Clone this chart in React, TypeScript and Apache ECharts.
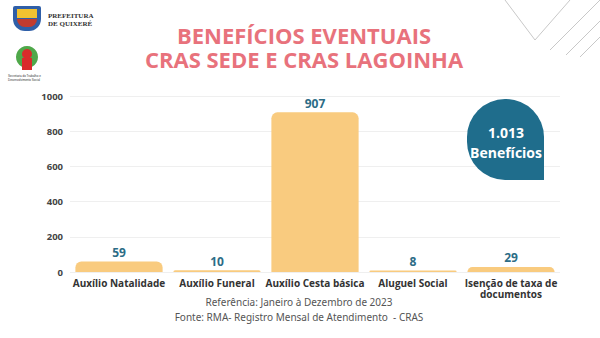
import React, { useEffect, useRef } from "react";
import * as echarts from "echarts";

const categories = [
  "Auxílio Natalidade",
  "Auxílio Funeral",
  "Auxílio Cesta básica",
  "Aluguel Social",
  "Isenção de taxa de\ndocumentos",
];
const values = [59, 10, 907, 8, 29];
const yTicks = { min: 0, max: 1000, interval: 200 };
const titleLines = ["BENEFÍCIOS EVENTUAIS", "CRAS SEDE E CRAS LAGOINHA"];
const badgeLines = ["1.013", "Benefícios"];
const footerLines = [
  "Referência: Janeiro à Dezembro de 2023",
  "Fonte: RMA- Registro Mensal de Atendimento  - CRAS",
];

export default function App() {
  const ref = useRef<HTMLDivElement>(null);
  useEffect(() => {
    if (!ref.current) return;
    const chart = echarts.init(ref.current, null, { renderer: "svg" });
    const diag: any[] = [];
    const diagLines = [
      [505, 0, 535, 40],
      [535, 40, 570, 0],
      [550, 50, 600, 0],
      [566, 55, 600, 21],
      [580, 57, 600, 37],
    ];
    diagLines.forEach(([x1, y1, x2, y2]) =>
      diag.push({
        type: "line",
        shape: { x1, y1, x2, y2 },
        style: { stroke: "#c8c8c8", lineWidth: 1 },
        silent: true,
      })
    );
    chart.setOption({
      animation: false,
      backgroundColor: "#ffffff",
      grid: { left: 70, right: 40, top: 96, bottom: 66, containLabel: false },
      xAxis: {
        type: "category",
        data: categories,
        axisLine: { show: false },
        axisTick: { show: false },
        axisLabel: {
          interval: 0,
          color: "#333",
          fontFamily: "Open Sans",
          fontWeight: "bold",
          fontSize: 10,
          margin: 5,
          lineHeight: 11,
        },
      },
      yAxis: {
        type: "value",
        min: yTicks.min,
        max: yTicks.max,
        interval: yTicks.interval,
        axisLine: { show: false },
        axisTick: { show: false },
        splitLine: { lineStyle: { color: "#efefef", width: 1 } },
        axisLabel: {
          color: "#444",
          fontFamily: "Open Sans",
          fontWeight: "bold",
          fontSize: 9.5,
          margin: 7,
          formatter: (v: number) => String(v),
        },
      },
      series: [
        {
          type: "bar",
          data: values,
          barWidth: "89%",
          itemStyle: { color: "#F9CB7F", borderRadius: [6, 6, 0, 0] },
          label: {
            show: true,
            position: "top",
            distance: 3,
            color: "#2C6C86",
            fontFamily: "Open Sans",
            fontWeight: "bold",
            fontSize: 12,
          },
        },
      ],
      graphic: [
        ...diag,
        // logo 1 (coat of arms approximation)
        {
          type: "rect",
          shape: { x: 13, y: 6, width: 28, height: 25, r: [2, 2, 12, 12] },
          style: { fill: "#2f5fa8" },
        },
        {
          type: "rect",
          shape: { x: 17, y: 9, width: 20, height: 9 },
          style: { fill: "#f2c230" },
        },
        {
          type: "rect",
          shape: { x: 17, y: 19, width: 20, height: 8, r: [0, 0, 8, 8] },
          style: { fill: "#c23b2f" },
        },
        {
          type: "text",
          left: 48,
          top: 12,
          style: {
            text: "PREFEITURA\nDE QUIXERÉ",
            fill: "#333",
            font: "bold 7px 'Liberation Serif'",
            lineHeight: 8,
          },
        },
        // logo 2
        {
          type: "circle",
          shape: { cx: 27, cy: 57, r: 11 },
          style: { fill: "#4fa84a" },
        },
        {
          type: "circle",
          shape: { cx: 27, cy: 54, r: 5 },
          style: { fill: "#d92b2b" },
        },
        {
          type: "rect",
          shape: { x: 22, y: 58, width: 10, height: 12 },
          style: { fill: "#d92b2b" },
        },
        {
          type: "text",
          left: 8,
          top: 74,
          style: {
            text: "Secretaria do Trabalho e\nDesenvolvimento Social",
            fill: "#333",
            font: "3px sans-serif",
            lineHeight: 4,
          },
        },
        // title
        {
          type: "text",
          x: 304,
          y: 46.5,
          style: {
            text: titleLines.join("\n"),
            fill: "#E8727C",
            font: "bold 22px 'Open Sans'",
            lineHeight: 24,
            align: "center",
            verticalAlign: "middle",
          },
        },
        // badge
        {
          type: "group",
          z: 100,
          children: [
            {
              type: "rect",
              z: 100,
              shape: { x: 467, y: 99, width: 77, height: 81, r: [38, 38, 0, 38] },
              style: { fill: "#1F6D8C" },
            },
            {
              type: "text",
              z: 101,
              x: 506,
              y: 142,
              style: {
                text: badgeLines.join("\n"),
                fill: "#ffffff",
                font: "bold 14px 'Open Sans'",
                lineHeight: 20,
                align: "center",
                verticalAlign: "middle",
              },
            },
          ],
        },
        // footer
        {
          type: "text",
          x: 299,
          y: 309,
          style: {
            text: footerLines.join("\n"),
            fill: "#555",
            font: "10px 'Noto Sans'",
            lineHeight: 15,
            align: "center",
            verticalAlign: "middle",
          },
        },
      ],
    });
    return () => chart.dispose();
  }, []);
  return (
    <div
      ref={ref}
      style={{ width: 600, height: 338, position: "absolute", left: 0, top: 0 }}
    />
  );
}
